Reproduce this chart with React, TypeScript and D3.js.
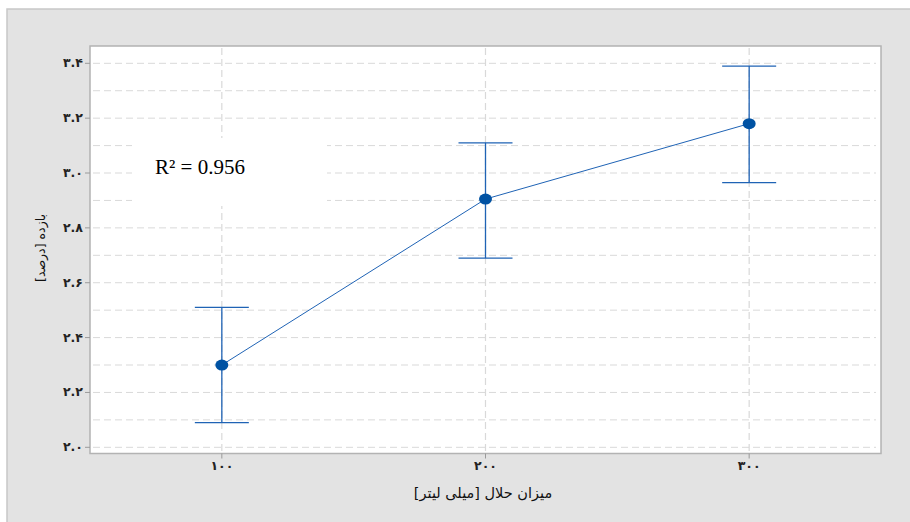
import React from "react";
import * as d3 from "d3";

const xValues = [100, 200, 300];
const meanValues = [2.30, 2.905, 3.18];
const upperValues = [2.51, 3.11, 3.39];
const lowerValues = [2.09, 2.69, 2.965];
const yTicks = [2.0, 2.2, 2.4, 2.6, 2.8, 3.0, 3.2, 3.4];
const yMinorTicks = [2.1, 2.3, 2.5, 2.7, 2.9, 3.1, 3.3];
const xTickLabels = ["۱۰۰", "۲۰۰", "۳۰۰"];
const yTickLabels = ["۲.۰", "۲.۲", "۲.۴", "۲.۶", "۲.۸", "۳.۰", "۳.۲", "۳.۴"];
const xTitle = "میزان حلال [میلی لیتر]";
const yTitle = "بازده [درصد]";
const r2Label = "R² = 0.956";

export default function App() {
  const W = 910, H = 522;
  const pl = 90, pr = 881, pt = 46, pb = 453.5;
  const x = d3.scaleLinear().domain([50, 350]).range([pl, pr]);
  const y = d3.scaleLinear().domain([2.0, 3.4]).range([447.3, 63.3]);
  const line = d3.line<number>().x((_, i) => x(xValues[i])).y((d) => y(d));
  const gridColor = "#d9d9d9";
  const dash = "7 4";
  const blue = "#1f63b5";
  const capHalf = 27;
  return (
    <svg width={W} height={H} style={{ position: "absolute", left: 0, top: 0 }}>
      <rect x={7} y={9} width={W} height={H} fill="#e3e3e3" stroke="#c8c8c8" strokeWidth={1.5} />
      <rect x={pl} y={pt} width={pr - pl} height={pb - pt} fill="#ffffff" stroke="#b3b3b3" strokeWidth={1.5} />
      {[...yTicks, ...yMinorTicks].map((t) => (
        <line key={"gy" + t} x1={pl + 3} x2={pr - 5} y1={y(t)} y2={y(t)} stroke={gridColor} strokeDasharray={dash} strokeWidth={1} />
      ))}
      {xValues.map((v) => (
        <line key={"gx" + v} x1={x(v)} x2={x(v)} y1={pt + 2} y2={pb} stroke={gridColor} strokeDasharray={dash} strokeWidth={1.2} />
      ))}
      <rect x={132} y={138} width={195} height={68} fill="#ffffff" />
      <text x={155} y={174} fontFamily="'Liberation Serif', serif" fontSize={21} fill="#000">{r2Label}</text>
      {yTicks.map((t, i) => (
        <g key={"yt" + t}>
          <line x1={pl - 5} x2={pl} y1={y(t)} y2={y(t)} stroke="#9a9a9a" />
          <text x={83} y={y(t) + 4} textAnchor="end" fontFamily="'DejaVu Sans', sans-serif" fontSize={12.5} fontWeight="bold" fill="#222" direction="ltr">{yTickLabels[i]}</text>
        </g>
      ))}
      {xValues.map((v, i) => (
        <g key={"xt" + v}>
          <line x1={x(v)} x2={x(v)} y1={pb} y2={pb + 5} stroke="#9a9a9a" />
          <text x={x(v)} y={470} textAnchor="middle" fontFamily="'DejaVu Sans', sans-serif" fontSize={12.5} fontWeight="bold" fill="#222">{xTickLabels[i]}</text>
        </g>
      ))}
      <text x={483} y={498} textAnchor="middle" fontFamily="'DejaVu Sans', sans-serif" fontSize={14.5} fill="#111" direction="rtl">{xTitle}</text>
      <text transform={`translate(45,${248}) rotate(-90)`} textAnchor="middle" fontFamily="'DejaVu Sans', sans-serif" fontSize={12.5} fill="#111" direction="rtl">{yTitle}</text>
      {xValues.map((v, i) => (
        <g key={"eb" + v} stroke={blue} strokeWidth={1.3}>
          <line x1={x(v)} x2={x(v)} y1={y(upperValues[i])} y2={y(lowerValues[i])} />
          <line x1={x(v) - capHalf} x2={x(v) + capHalf} y1={y(upperValues[i])} y2={y(upperValues[i])} />
          <line x1={x(v) - capHalf} x2={x(v) + capHalf} y1={y(lowerValues[i])} y2={y(lowerValues[i])} />
        </g>
      ))}
      <path d={line(meanValues) || ""} fill="none" stroke={blue} strokeWidth={1} />
      {xValues.map((v, i) => (
        <ellipse key={"pt" + v} cx={x(v)} cy={y(meanValues[i])} rx={6.5} ry={5.5} fill="#0052a3" />
      ))}
    </svg>
  );
}
